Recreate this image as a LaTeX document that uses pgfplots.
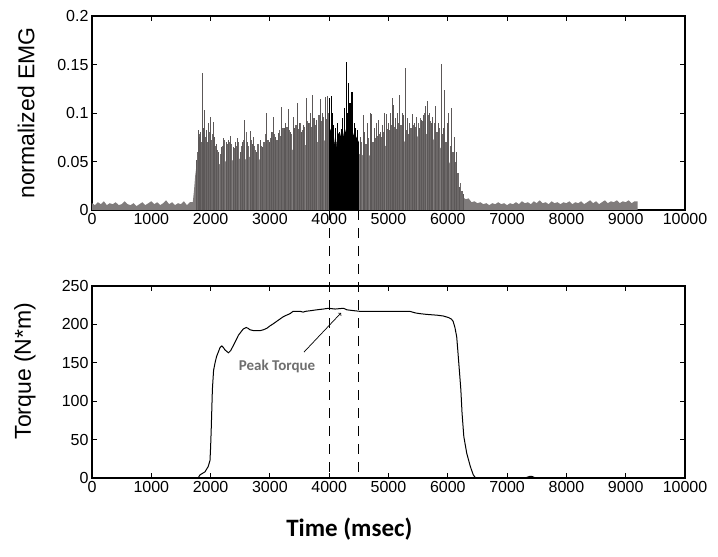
\documentclass[border=0pt]{standalone}
\usepackage{pgfplots}
\pgfplotsset{compat=1.18}
\usepackage{fontspec}
\setmainfont{Liberation Sans}
\newfontfamily\carlito{Carlito}
\definecolor{emgbody}{RGB}{128,124,124}
\definecolor{emgspike}{RGB}{92,88,88}
\definecolor{notegray}{RGB}{110,110,110}

\begin{document}
\begin{tikzpicture}
\pgfplotsset{
  every axis/.append style={
    scale only axis,
    width=593pt,
    xmin=0, xmax=10000,
    xtick={0,1000,...,10000},
    xticklabels={0,1000,2000,3000,4000,5000,6000,7000,8000,9000,10000},
    scaled x ticks=false,
    scaled y ticks=false,
    tick label style={font=\fontsize{16}{19}\selectfont},
    major tick length=5pt,
    tick style={black, line width=1pt},
    axis line style={line width=1.2pt},
    tick align=inside,
    clip=true,
  },
}
% EMG
\begin{axis}[
  name=top, at={(0pt,0pt)}, anchor=south west,
  height=194pt,
  ymin=0, ymax=0.2,
  ytick={0,0.05,0.1,0.15,0.2},
  yticklabels={0,0.05,0.1,0.15,0.2},
  ylabel={normalized EMG},
  ylabel style={font=\fontsize{23}{27}\selectfont, at={(axis description cs:-0.111,0.5)}, anchor=center},
]
\addplot[fill=emgbody, draw=none] coordinates {
(0,0)(0,0.007)(50,0.005)(100,0.008)(150,0.006)(200,0.009)(250,0.005)(300,0.007)(350,0.006)(400,0.008)
(450,0.005)(500,0.006)(550,0.009)(600,0.006)(650,0.005)(700,0.007)(750,0.004)(800,0.006)(850,0.008)
(900,0.005)(950,0.007)(1000,0.009)(1050,0.006)(1100,0.008)(1150,0.005)(1200,0.007)(1250,0.010)
(1300,0.006)(1350,0.008)(1400,0.005)(1450,0.007)(1500,0.006)(1550,0.009)(1600,0.005)(1650,0.008)
(1700,0.008)(1720,0.02)(1740,0.035)(1760,0.045)(1780,0.052)(1800,0.06)(1850,0.064)(1900,0.066)
(1950,0.06)(2000,0.058)(2050,0.054)(2100,0.05)(2150,0.047)(2200,0.048)(2250,0.05)(2300,0.052)
(2350,0.05)(2400,0.053)(2450,0.055)(2500,0.052)(2550,0.05)(2600,0.053)(2650,0.055)(2700,0.052)
(2750,0.05)(2800,0.051)(2850,0.053)(2900,0.055)(2950,0.056)(3000,0.055)(3050,0.057)(3100,0.056)
(3150,0.056)(3200,0.059)(3250,0.058)(3300,0.061)(3350,0.06)(3400,0.063)(3450,0.062)(3500,0.065)
(3550,0.064)(3600,0.067)(3650,0.066)(3700,0.069)(3750,0.068)(3800,0.07)(3850,0.069)(3900,0.072)
(3950,0.071)(4000,0.07)(4250,0.07)(4500,0.058)(4550,0.056)(4600,0.058)(4650,0.055)(4700,0.057)
(4750,0.056)(4800,0.06)(4850,0.062)(4900,0.064)(4950,0.066)(5000,0.068)(5050,0.069)(5100,0.07)
(5150,0.071)(5200,0.072)(5250,0.071)(5300,0.07)(5350,0.071)(5400,0.073)(5450,0.075)(5500,0.076)
(5550,0.078)(5600,0.079)(5650,0.078)(5700,0.076)(5750,0.073)(5800,0.07)(5850,0.066)(5900,0.062)
(5950,0.057)(6000,0.052)(6050,0.046)(6100,0.04)(6150,0.03)(6200,0.022)(6250,0.014)(6300,0.011)
(6350,0.012)(6400,0.008)(6450,0.009)(6500,0.007)(6550,0.008)(6600,0.006)(6650,0.007)(6700,0.005)
(6750,0.007)(6800,0.006)(6850,0.008)(6900,0.006)(6950,0.007)(7000,0.005)(7050,0.007)(7100,0.006)
(7150,0.008)(7200,0.006)(7250,0.009)(7300,0.007)(7350,0.008)(7400,0.006)(7450,0.009)(7500,0.007)
(7550,0.010)(7600,0.007)(7650,0.008)(7700,0.006)(7750,0.009)(7800,0.007)(7850,0.008)(7900,0.006)
(7950,0.008)(8000,0.007)(8050,0.009)(8100,0.006)(8150,0.008)(8200,0.007)(8250,0.009)(8300,0.006)
(8350,0.008)(8400,0.010)(8450,0.007)(8500,0.009)(8550,0.006)(8600,0.008)(8650,0.010)(8700,0.007)
(8750,0.009)(8800,0.008)(8850,0.010)(8900,0.007)(8950,0.009)(9000,0.008)(9050,0.010)(9100,0.007)
(9150,0.009)(9200,0.009)(9200,0)
} \closedcycle;
% denser mid-height spikes
\addplot[ycomb, mark=none, color=emgbody!85!black, line width=1.3pt] coordinates {
(1775,0.06)(1820,0.078)(1845,0.07)(1870,0.08)(1915,0.075)(1945,0.07)(1975,0.08)(2010,0.072)
(2030,0.078)(2085,0.066)(2115,0.062)(2175,0.058)(2210,0.066)(2240,0.072)(2280,0.068)(2315,0.07)
(2350,0.068)(2400,0.064)(2435,0.066)(2475,0.07)(2520,0.066)(2560,0.072)(2600,0.08)(2640,0.066)
(2685,0.072)(2740,0.066)(2760,0.062)(2800,0.068)(2860,0.066)(2900,0.07)(2925,0.078)(2970,0.072)
(3005,0.074)(3035,0.08)(3075,0.078)(3120,0.072)(3160,0.082)(3180,0.076)(3220,0.085)(3255,0.08)
(3290,0.086)(3330,0.082)(3370,0.078)(3405,0.084)(3440,0.088)(3480,0.084)(3515,0.09)(3545,0.082)
(3585,0.086)(3630,0.092)(3665,0.09)(3695,0.086)(3730,0.095)(3770,0.088)(3815,0.09)(3830,0.098)
(3865,0.092)(3900,0.096)(3950,0.094)(3985,0.1)
(4540,0.07)(4585,0.072)(4620,0.068)(4665,0.074)(4705,0.075)(4740,0.07)(4780,0.074)(4815,0.076)
(4850,0.078)(4885,0.075)(4920,0.08)(4980,0.084)(5015,0.082)(5045,0.088)(5100,0.086)(5135,0.084)
(5170,0.09)(5210,0.088)(5245,0.085)(5300,0.082)(5340,0.078)(5380,0.085)(5420,0.088)(5460,0.086)
(5500,0.09)(5535,0.095)(5570,0.092)(5610,0.1)(5670,0.098)(5705,0.092)(5735,0.086)(5780,0.09)
(5820,0.08)(5860,0.085)(5900,0.078)(5935,0.074)(5970,0.07)(6005,0.072)(6045,0.066)(6090,0.06)
(6130,0.05)(6170,0.038)(6210,0.028)(6240,0.02)
};
\addplot[ycomb, mark=none, color=emgspike, line width=1pt] coordinates {
(1760,0.052)(1790,0.082)(1810,0.075)(1830,0.08)(1855,0.141)(1880,0.085)(1900,0.103)(1930,0.082)
(1960,0.09)(1990,0.096)(2045,0.091)(2070,0.075)(2100,0.068)(2130,0.06)(2190,0.065)(2225,0.074)
(2260,0.07)(2300,0.072)(2330,0.076)(2380,0.065)(2420,0.07)(2450,0.074)(2500,0.06)(2540,0.07)
(2580,0.093)(2620,0.07)(2665,0.081)(2700,0.068)(2720,0.075)(2780,0.06)(2835,0.072)(2880,0.065)
(2950,0.1)(2990,0.07)(3020,0.08)(3055,0.096)(3100,0.075)(3140,0.079)(3200,0.106)(3240,0.085)
(3270,0.09)(3310,0.104)(3350,0.08)(3390,0.096)(3420,0.085)(3460,0.11)(3500,0.09)(3530,0.08)
(3560,0.088)(3610,0.115)(3650,0.09)(3680,0.1)(3710,0.119)(3750,0.095)(3790,0.093)(3845,0.114)
(3880,0.1)(3930,0.117)(3965,0.118)
(4520,0.075)(4570,0.098)(4600,0.08)(4640,0.09)(4690,0.1)(4720,0.099)(4760,0.085)(4800,0.09)
(4830,0.093)(4870,0.08)(4900,0.088)(4940,0.1)(4960,0.099)(5000,0.09)(5030,0.1)(5060,0.115)
(5080,0.108)(5120,0.095)(5150,0.1)(5190,0.119)(5230,0.1)(5260,0.098)(5280,0.146)(5320,0.095)
(5360,0.09)(5400,0.099)(5440,0.09)(5480,0.096)(5520,0.085)(5550,0.093)(5590,0.098)(5630,0.107)
(5650,0.112)(5690,0.1)(5720,0.09)(5750,0.096)(5800,0.107)(5840,0.09)(5886,0.151)(5920,0.085)
(5950,0.124)(5990,0.09)(6020,0.1)(6070,0.105)(6110,0.075)(6150,0.06)(6190,0.024)(6260,0.017)
};
\addplot[fill=black, draw=none] coordinates {
(4000,0)(4000,0.08)(4040,0.085)(4080,0.075)(4110,0.06)(4140,0.078)(4180,0.08)(4220,0.07)
(4260,0.085)(4300,0.075)(4340,0.08)(4380,0.072)(4420,0.08)(4460,0.075)(4500,0.07)(4500,0)
} \closedcycle;
\addplot[ycomb, mark=none, color=black, line width=1.1pt] coordinates {
(4010,0.115)(4035,0.118)(4060,0.1)(4080,0.088)(4110,0.085)(4140,0.09)(4170,0.08)(4200,0.083)
(4230,0.095)(4260,0.105)(4290,0.153)(4305,0.1)(4325,0.131)(4350,0.11)(4370,0.09)(4385,0.122)
(4420,0.09)(4445,0.085)(4480,0.082)
};
\coordinate (a1) at (axis cs:4000,0);
\coordinate (a2) at (axis cs:4500,0);
\end{axis}
% Torque
\begin{axis}[
  name=bottom, at={(0pt,-268pt)}, anchor=south west,
  height=192pt,
  ymin=0, ymax=250,
  ytick={0,50,...,250},
  yticklabels={0,50,100,150,200,250},
  ylabel={Torque (N*m)},
  ylabel style={font=\fontsize{23}{27}\selectfont, at={(axis description cs:-0.113,0.557)}, anchor=center},
  xlabel={Time (msec)},
  xlabel style={font=\carlito\bfseries\fontsize{25}{30}\selectfont, at={(axis description cs:0.434,0)}, anchor=center, yshift=-51pt},
]
\addplot[black, line width=1pt] coordinates {
(0,0)(1790,0)(1820,4)(1905,8)(1960,15)(1990,23)(2000,40)(2010,62)(2030,115)(2050,140)(2075,150)
(2100,158)(2130,164)(2160,170)(2190,172)(2215,170)(2240,167)(2270,165)(2300,163)(2340,166)
(2380,172)(2420,178)(2470,186)(2510,190)(2550,194)(2600,196)(2630,195)(2665,193)(2720,192)
(2780,192)(2840,192)(2890,193)(2950,195)(3000,198)(3060,201)(3115,204)(3170,207)(3225,210)
(3280,212)(3340,214)(3390,217)(3450,217)(3510,217)(3560,216)(3600,217)(3700,218)(3790,219)
(3900,220)(3985,221)(4100,220)(4240,221)(4300,219)(4400,218)(4520,217)(5000,217)(5360,217)
(5450,215)(5530,214)(5650,213)(5820,212)(5920,211)(6010,209)(6060,207)(6090,204)(6120,196)
(6150,184)(6170,165)(6190,145)(6220,115)(6240,85)(6270,54)(6320,32)(6380,15)(6430,4)(6470,0)
(7300,0)(7380,2)(7420,2)(7480,0)(9200,0)
};
\draw[->, line width=0.7pt] (axis cs:3575,164) -- (axis cs:4200,215);
\node[font=\carlito\bfseries\fontsize{15}{18}\selectfont, text=notegray] at (axis cs:3120,145) {Peak Torque};
\coordinate (b1) at (axis cs:4000,0);
\coordinate (b2) at (axis cs:4500,0);
\end{axis}
\draw[line width=1.1pt, dash pattern=on 10pt off 8pt] (a1) -- (b1);
\draw[line width=1.1pt, dash pattern=on 10pt off 8pt] (a2) -- (b2);
\pgfresetboundingbox
\path (-92pt,-347pt) rectangle (626pt,210pt);
\end{tikzpicture}
\end{document}
